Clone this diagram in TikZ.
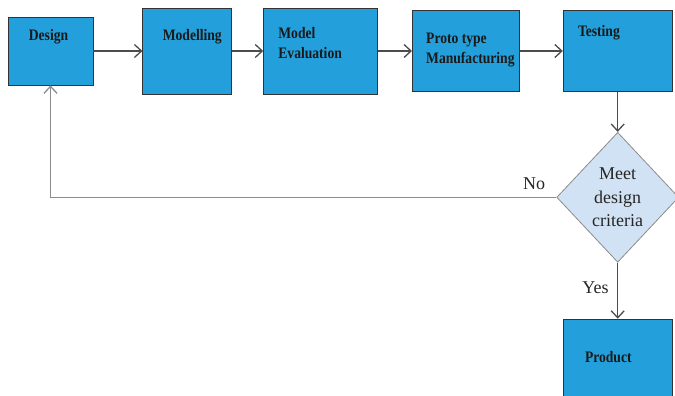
\documentclass[tikz,border=0pt]{standalone}
\usepackage{fontspec}
\setmainfont{Liberation Serif}
\newfontfamily\boxfont{Liberation Serif}[FakeStretch=0.85]
\usetikzlibrary{positioning,shapes.geometric,arrows.meta}
\definecolor{boxblue}{HTML}{23A0DB}
\definecolor{paleblue}{HTML}{D0E2F3}
\begin{document}
\begin{tikzpicture}[
  x=1pt, y=-1pt,
  block/.style={rectangle, draw=black!80, fill=boxblue, line width=0.8pt, inner sep=0pt},
  boxtext/.style={font=\boxfont\bfseries\fontsize{16}{20}\selectfont, text=black!90, inner sep=0pt, align=left},
  decision/.style={diamond, draw=black!45, fill=paleblue, line width=0.8pt, minimum width=122pt, minimum height=130pt, inner sep=0pt},
  flow/.style={draw=black!70, line width=1.3pt, -{Straight Barb[length=7pt,width=13pt]}},
  node distance=49pt
]
\useasboundingbox (0,0) rectangle (675,396);

\node[block, minimum width=85pt, minimum height=68pt] (design) at (50.5,51) {};
\node[block, right=49pt of design, minimum width=89pt, minimum height=86pt] (modelling) {};
\node[block, right=31pt of modelling, minimum width=114pt, minimum height=86pt] (evaluation) {};
\node[block, right=34pt of evaluation, minimum width=107pt, minimum height=81pt] (prototype) {};
\node[block, right=43pt of prototype, minimum width=109pt, minimum height=81pt] (testing) {};
\node[decision, below=40pt of testing] (check) {};
\node[block, below=56pt of check, minimum width=109pt, minimum height=84pt] (product) {};

% box texts
\node[boxtext] (designtxt) at ([xshift=-2pt,yshift=-20pt]design.north) {Design};
\node[boxtext] (modellingtxt) at ([xshift=5pt,yshift=-29pt]modelling.north) {Modelling};
\node[boxtext, anchor=west] (evaluationtxt) at ([xshift=15pt,yshift=8pt]evaluation.west) {Model\\Evaluation};
\node[boxtext, anchor=west] (prototypetxt) at ([xshift=14pt,yshift=1pt]prototype.west) {Proto type\\Manufacturing};
\node[boxtext, anchor=west] (testingtxt) at ([xshift=15pt,yshift=-23pt]testing.north west) {Testing};
\node[boxtext, anchor=west] (producttxt) at ([xshift=22pt,yshift=-38pt]product.north west) {Product};
\node[font=\fontsize{18}{23.5}\selectfont, align=center, inner sep=0pt, text=black!85] (checktxt) at (check.center) {Meet\\design\\criteria};

\draw[flow] (design) -- (modelling);
\draw[flow] (modelling) -- (evaluation);
\draw[flow] (evaluation) -- (prototype);
\draw[flow] (prototype) -- (testing);
\draw[flow] (testing) -- (check);
\draw[flow] (check) -- (product);
\draw[flow, draw=black!45] (check.west) -| (design.south);

\node[font=\fontsize{18}{20}\selectfont, text=black!85, anchor=south east, inner sep=0pt] (no) at ([xshift=-11pt,yshift=7pt]check.west) {No};
\node[font=\fontsize{18}{20}\selectfont, text=black!85, anchor=east, inner sep=0pt] (yes) at ([xshift=-9pt,yshift=-25pt]check.south) {Yes};
\end{tikzpicture}
\end{document}
